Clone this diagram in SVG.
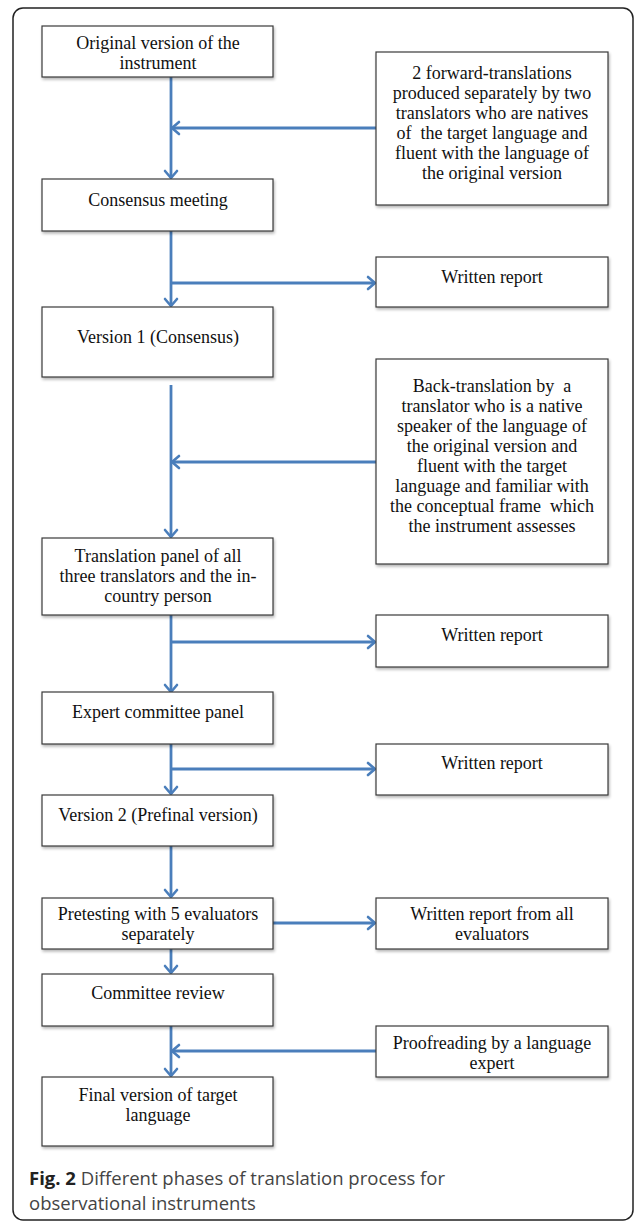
<svg xmlns="http://www.w3.org/2000/svg" width="634" height="1223" viewBox="0 0 634 1223">
<defs>
<filter id="sh" x="-5%" y="-10%" width="115%" height="130%">
<feGaussianBlur in="SourceAlpha" stdDeviation="1.5"/>
<feOffset dx="1" dy="2" result="b"/>
<feComponentTransfer><feFuncA type="linear" slope="0.3"/></feComponentTransfer>
<feMerge><feMergeNode/><feMergeNode in="SourceGraphic"/></feMerge>
</filter>
<marker id="ah" markerUnits="userSpaceOnUse" markerWidth="16" markerHeight="16" refX="9" refY="8" orient="auto">
<path d="M2,2 L9,8 L2,14" fill="none" stroke="#4a7ebb" stroke-width="2.6" stroke-linecap="round" stroke-linejoin="round"/>
</marker>
</defs>
<style>
.box{fill:#fff;stroke:#3a3a3a;stroke-width:1.2;filter:url(#sh)}
.t{font-family:"Liberation Serif","Times New Roman",serif;font-size:18px;fill:#111;text-anchor:middle}
.c{fill:none;stroke:#4a7ebb;stroke-width:2.8}
.cap{font-family:"Open Sans","DejaVu Sans",sans-serif;font-size:18.5px;fill:#444}
</style>
<rect x="0" y="0" width="634" height="1223" fill="#fff"/>
<rect x="13" y="8" width="620" height="1212" rx="10" ry="10" fill="none" stroke="#222" stroke-width="1.5"/>

<g id="connectors">
<path class="c" d="M171,77 V178" marker-end="url(#ah)"/>
<path class="c" d="M376,128 H172" marker-end="url(#ah)"/>
<path class="c" d="M171,231 V306" marker-end="url(#ah)"/>
<path class="c" d="M171,283 H375" marker-end="url(#ah)"/>
<path class="c" d="M171,385 V537" marker-end="url(#ah)"/>
<path class="c" d="M376,462 H172" marker-end="url(#ah)"/>
<path class="c" d="M171,615 V692" marker-end="url(#ah)"/>
<path class="c" d="M171,642 H375" marker-end="url(#ah)"/>
<path class="c" d="M171,744 V794" marker-end="url(#ah)"/>
<path class="c" d="M171,769 H375" marker-end="url(#ah)"/>
<path class="c" d="M171,846 V897" marker-end="url(#ah)"/>
<path class="c" d="M273,923 H375" marker-end="url(#ah)"/>
<path class="c" d="M171,949 V973" marker-end="url(#ah)"/>
<path class="c" d="M171,1026 V1076" marker-end="url(#ah)"/>
<path class="c" d="M376,1051 H172" marker-end="url(#ah)"/>
</g>

<g id="n1"><rect class="box" x="42" y="26" width="231" height="51"/>
<text class="t" x="158" y="49">Original version of the</text><text class="t" x="158" y="69">instrument</text></g>

<g id="n2"><rect class="box" x="376" y="52" width="232" height="153"/>
<text class="t" x="492" y="79">2 forward-translations</text>
<text class="t" x="492" y="99">produced separately by two</text>
<text class="t" x="492" y="119">translators who are natives</text>
<text class="t" x="492" y="139" xml:space="preserve">of  the target language and</text>
<text class="t" x="492" y="159">fluent with the language of</text>
<text class="t" x="492" y="179">the original version</text></g>

<g id="n3"><rect class="box" x="42" y="179" width="231" height="52"/>
<text class="t" x="158" y="206">Consensus meeting</text></g>

<g id="n4"><rect class="box" x="376" y="257" width="232" height="50"/>
<text class="t" x="492" y="283">Written report</text></g>

<g id="n5"><rect class="box" x="42" y="307" width="231" height="70"/>
<text class="t" x="158" y="343">Version 1 (Consensus)</text></g>

<g id="n6"><rect class="box" x="376" y="359" width="232" height="205"/>
<text class="t" x="492" y="392" xml:space="preserve">Back-translation by  a</text>
<text class="t" x="492" y="412">translator who is a native</text>
<text class="t" x="492" y="432">speaker of the language of</text>
<text class="t" x="492" y="452">the original version and</text>
<text class="t" x="492" y="472">fluent with the target</text>
<text class="t" x="492" y="492">language and familiar with</text>
<text class="t" x="492" y="512" xml:space="preserve">the conceptual frame  which</text>
<text class="t" x="492" y="532">the instrument assesses</text></g>

<g id="n7"><rect class="box" x="42" y="538" width="231" height="77"/>
<text class="t" x="158" y="562">Translation panel of all</text>
<text class="t" x="158" y="582">three translators and the in-</text>
<text class="t" x="158" y="602">country person</text></g>

<g id="n8"><rect class="box" x="376" y="615" width="232" height="52"/>
<text class="t" x="492" y="641">Written report</text></g>

<g id="n9"><rect class="box" x="42" y="692" width="231" height="52"/>
<text class="t" x="158" y="718">Expert committee panel</text></g>

<g id="n10"><rect class="box" x="376" y="744" width="232" height="51"/>
<text class="t" x="492" y="769">Written report</text></g>

<g id="n11"><rect class="box" x="42" y="795" width="231" height="51"/>
<text class="t" x="158" y="821">Version 2 (Prefinal version)</text></g>

<g id="n12"><rect class="box" x="42" y="898" width="231" height="51"/>
<text class="t" x="158" y="920">Pretesting with 5 evaluators</text>
<text class="t" x="158" y="940">separately</text></g>

<g id="n13"><rect class="box" x="376" y="898" width="232" height="51"/>
<text class="t" x="492" y="920">Written report from all</text>
<text class="t" x="492" y="940">evaluators</text></g>

<g id="n14"><rect class="box" x="42" y="974" width="231" height="52"/>
<text class="t" x="158" y="999">Committee review</text></g>

<g id="n15"><rect class="box" x="376" y="1026" width="232" height="51"/>
<text class="t" x="492" y="1049">Proofreading by a language</text>
<text class="t" x="492" y="1069">expert</text></g>

<g id="n16"><rect class="box" x="42" y="1077" width="231" height="69"/>
<text class="t" x="158" y="1101">Final version of target</text>
<text class="t" x="158" y="1121">language</text></g>

<text class="cap" x="29" y="1185"><tspan font-weight="bold" fill="#222">Fig. 2</tspan> Different phases of translation process for</text>
<text class="cap" x="29" y="1210">observational instruments</text>
</svg>
